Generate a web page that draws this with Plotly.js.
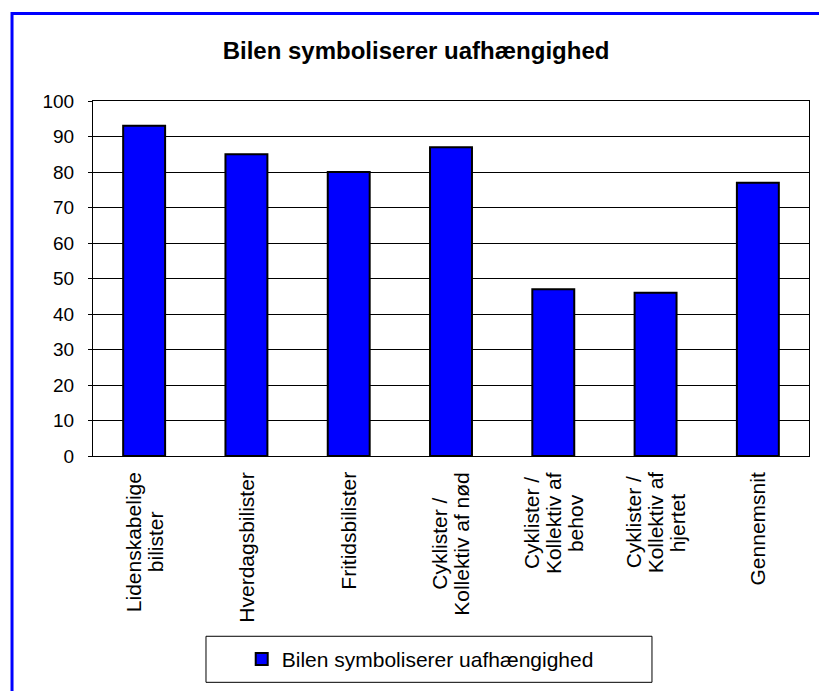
<!DOCTYPE html>
<html>
<head>
<meta charset="utf-8">
<script src="https://cdn.plot.ly/plotly-3.0.1.min.js"></script>
<style>
  html, body { margin: 0; padding: 0; background: #fff; }
  #chart { width: 819px; height: 691px; }
</style>
</head>
<body>
<div id="chart"></div>
<script>
const categories = [
  "Lidenskabelige<br>bilister",
  "Hverdagsbilister",
  "Fritidsbilister",
  "Cyklister /<br>Kollektiv af nød",
  "Cyklister /<br>Kollektiv af<br>behov",
  "Cyklister /<br>Kollektiv af<br>hjertet",
  "Gennemsnit"
];
const values = [93, 85, 80, 87, 47, 46, 77];
const seriesName = "Bilen symboliserer uafhængighed";
const chartTitle = "Bilen symboliserer uafhængighed";
const yTicks = [0, 10, 20, 30, 40, 50, 60, 70, 80, 90, 100];

const font = "Liberation Sans, Arial, sans-serif";
const xLabelSize = 21;
const xLineGap = 22;
const xLabelTopGap = 16;

const trace = {
  type: "bar",
  x: categories,
  y: values,
  name: seriesName,
  marker: { color: "#0000FF", line: { color: "#000000", width: 2 } },
  hoverinfo: "x+y"
};

// measure label lines to center each multi-line label block like the original
const ctx = document.createElement("canvas").getContext("2d");
ctx.font = xLabelSize + "px 'Liberation Sans', Arial, sans-serif";
const labelAnnotations = [];
categories.forEach(function (cat) {
  const lines = cat.split("<br>");
  const longest = Math.max.apply(null, lines.map(function (l) { return ctx.measureText(l).width; }));
  lines.forEach(function (line, j) {
    labelAnnotations.push({
      xref: "x", yref: "paper",
      x: cat, y: 0,
      text: line,
      textangle: -90,
      showarrow: false,
      xanchor: "center", yanchor: "middle",
      xshift: (j - (lines.length - 1) / 2) * xLineGap,
      yshift: -(xLabelTopGap + longest / 2),
      font: { family: font, size: xLabelSize, color: "#000" }
    });
  });
});

const layout = {
  width: 819,
  height: 691,
  margin: { l: 93, r: 10, t: 101, b: 235, pad: 0 },
  paper_bgcolor: "#ffffff",
  plot_bgcolor: "#ffffff",
  bargap: 0.59,
  font: { family: font, color: "#000000", size: 19 },
  title: {
    text: "<b>" + chartTitle + "</b>",
    font: { family: font, size: 24, color: "#000000" },
    x: 0.508, xref: "container", xanchor: "center",
    y: 47, yref: "container", yanchor: "middle"
  },
  xaxis: {
    type: "category",
    showticklabels: false,
    showgrid: false,
    showline: true, linecolor: "#000", linewidth: 1, mirror: true,
    ticks: "", zeroline: false
  },
  yaxis: {
    range: [0, 100],
    tickvals: yTicks,
    ticktext: yTicks.map(String),
    tickfont: { family: font, size: 19, color: "#000" },
    ticklabelstandoff: 10,
    showgrid: true, gridcolor: "#000000", gridwidth: 1,
    showline: true, linecolor: "#000", linewidth: 1, mirror: true,
    ticks: "outside", ticklen: 4, tickcolor: "#000",
    zeroline: false
  },
  showlegend: true,
  legend: {
    orientation: "h",
    x: 0.457, xanchor: "center",
    y: -0.573, yanchor: "middle",
    bgcolor: "rgba(0,0,0,0)",
    borderwidth: 0,
    font: { family: font, size: 21, color: "#000" }
  },
  annotations: labelAnnotations,
  shapes: [
    { type: "rect", xref: "paper", yref: "paper",
      x0: 0.1578, x1: 0.7807, y0: -0.6375, y1: -0.5078,
      line: { color: "#000", width: 1 }, fillcolor: "rgba(0,0,0,0)", layer: "below" },
    { type: "rect", xref: "paper", yref: "paper",
      x0: -0.1131, x1: 1.5, y0: -1.5, y1: 1.2468,
      line: { color: "#0000FF", width: 3 }, fillcolor: "rgba(0,0,0,0)", layer: "below" }
  ]
};

Plotly.newPlot("chart", [trace], layout, { displayModeBar: false, staticPlot: true });
</script>
</body>
</html>
